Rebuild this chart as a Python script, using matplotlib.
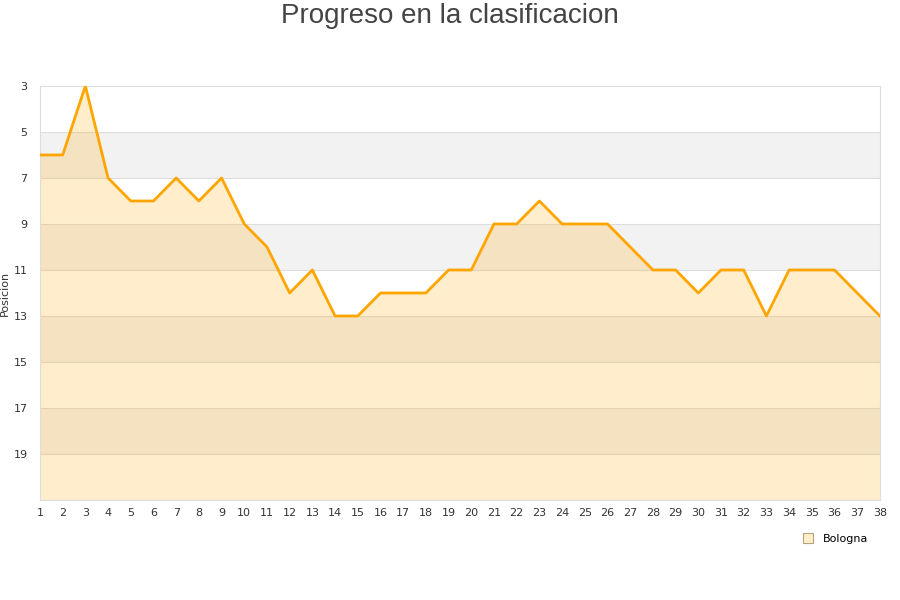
import matplotlib
matplotlib.use("Agg")
import matplotlib.pyplot as plt
from matplotlib.lines import Line2D

# round-by-round league position
jornadas = list(range(1, 39))
posicion = [6, 6, 3, 7, 8, 8, 7, 8, 7, 9,
            10, 12, 11, 13, 13, 12, 12, 12, 11, 11,
            9, 9, 8, 9, 9, 9, 10, 11, 11, 12,
            11, 11, 13, 11, 11, 11, 12, 13]
y_ticks = [3, 5, 7, 9, 11, 13, 15, 17, 19]
y_min, y_max = 3, 21
team = "Bologna"

fig = plt.figure(figsize=(9, 6), dpi=100)
ax = fig.add_axes([0.0444, 0.1667, 0.9333, 0.69])

# alternating horizontal bands
for i, lo in enumerate(range(y_min, y_max, 2)):
    if i % 2 == 1:
        ax.axhspan(lo, lo + 2, color="#f2f2f2", zorder=0, lw=0)
for t in y_ticks[1:]:
    ax.axhline(t, color="#dddddd", lw=0.8, zorder=1)

ax.fill_between(jornadas, posicion, y_max, color="#FFA500", alpha=0.2,
                lw=0, zorder=2)
ax.plot(jornadas, posicion, color="#FFA500", lw=2.0, zorder=3)

ax.set_xlim(1, 38)
ax.set_ylim(y_max, y_min)
ax.set_xticks(jornadas)
ax.set_yticks(y_ticks)
ax.tick_params(axis="both", length=0, labelsize=8, colors="#333333", pad=6)
ax.tick_params(axis="y", pad=9)
for s in ax.spines.values():
    s.set_color("#dddddd")
    s.set_linewidth(0.8)

ax.set_ylabel("Posicion", fontsize=8, color="#333333")
ax.yaxis.set_label_coords(-0.036, 0.5)

fig.text(0.5, 0.995, "Progreso en la clasificacion", ha="center", va="top",
         fontsize=20, color="#444444", family="Liberation Sans")

handle = Line2D([], [], marker="s", ls="none", markersize=7,
                markerfacecolor="#FEEFCC", markeredgecolor="#b8a27a",
                markeredgewidth=0.8)
fig.legend([handle], [team], loc="center", bbox_to_anchor=(0.925, 0.102),
           frameon=False, fontsize=8, handletextpad=0.4)

fig.savefig("out.png", dpi=100)
